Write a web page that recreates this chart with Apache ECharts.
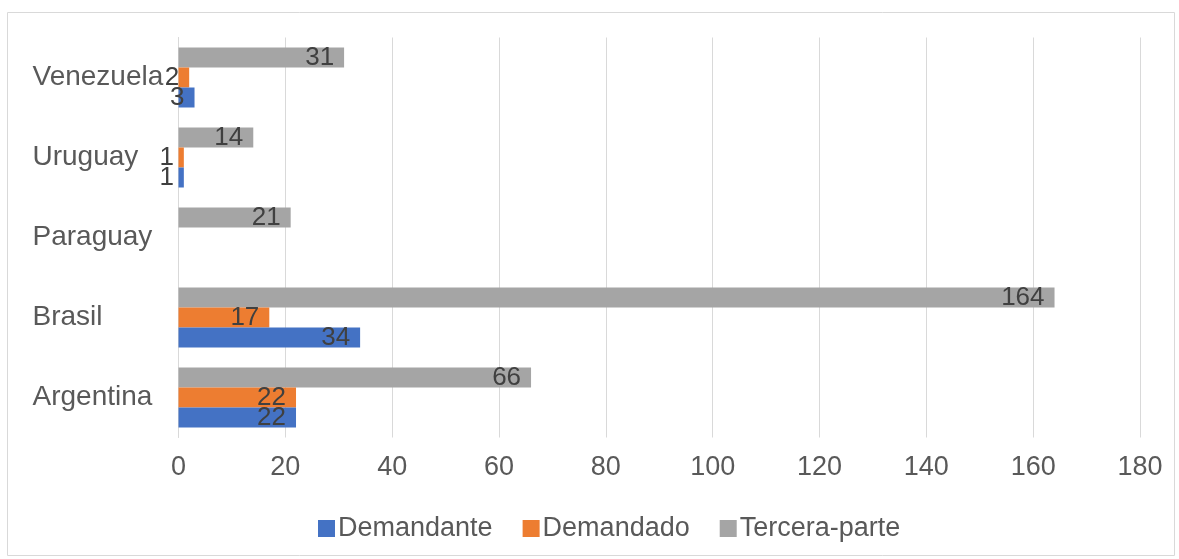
<!DOCTYPE html>
<html>
<head>
<meta charset="utf-8">
<script src="https://cdn.jsdelivr.net/npm/echarts@6/dist/echarts.min.js"></script>
<style>
html,body{margin:0;padding:0;background:#fff;}
#chart{width:1179px;height:559px;}
</style>
</head>
<body>
<div id="chart"></div>
<script>
const categories = ['Argentina', 'Brasil', 'Paraguay', 'Uruguay', 'Venezuela'];
const demandante = [22, 34, null, 1, 3];
const demandado = [22, 17, null, 1, 2];
const terceraParte = [66, 164, 21, 14, 31];
const xTicks = { min: 0, max: 180, interval: 20 };
const seriesNames = ['Demandante', 'Demandado', 'Tercera-parte'];
const colors = ['#4472C4', '#ED7D31', '#A5A5A5'];

const FONT = '"Liberation Sans", Arial, sans-serif';
const chart = echarts.init(document.getElementById('chart'));

const labelStyle = {
  show: true,
  position: 'insideRight',
  distance: 10,
  color: '#404040',
  fontFamily: FONT,
  fontSize: 26
};

function mk(name, data, color) {
  return {
    name: name,
    type: 'bar',
    data: data,
    barGap: '0%',
    barCategoryGap: '25%',
    itemStyle: { color: color },
    label: labelStyle
  };
}

chart.setOption({
  animation: false,
  color: colors,
  graphic: [{
    type: 'rect',
    shape: { x: 7.5, y: 12.5, width: 1167, height: 543 },
    style: { fill: 'none', stroke: '#d9d9d9', lineWidth: 1 },
    silent: true
  }],
  grid: { left: 178.5, right: 39, top: 37.5, bottom: 121.5, containLabel: false },
  xAxis: {
    type: 'value',
    min: xTicks.min, max: xTicks.max, interval: xTicks.interval,
    axisLine: { show: false },
    axisTick: { show: false },
    splitLine: { show: true, lineStyle: { color: '#d9d9d9', width: 1 } },
    axisLabel: { color: '#595959', fontFamily: FONT, fontSize: 27, margin: 17 }
  },
  yAxis: {
    type: 'category',
    data: categories,
    axisLine: { show: true, lineStyle: { color: '#d9d9d9' } },
    axisTick: { show: false },
    axisLabel: { color: '#595959', fontFamily: FONT, fontSize: 28, align: 'left', margin: 146 }
  },
  legend: {
    data: seriesNames,
    left: 313,
    top: 510,
    itemWidth: 17,
    itemHeight: 17,
    itemGap: 30,
    icon: 'rect',
    textStyle: { color: '#595959', fontFamily: FONT, fontSize: 27, padding: [0, 0, 0, -2] }
  },
  series: [
    mk(seriesNames[2], terceraParte, colors[2]),
    mk(seriesNames[1], demandado, colors[1]),
    mk(seriesNames[0], demandante, colors[0])
  ]
});
</script>
</body>
</html>
